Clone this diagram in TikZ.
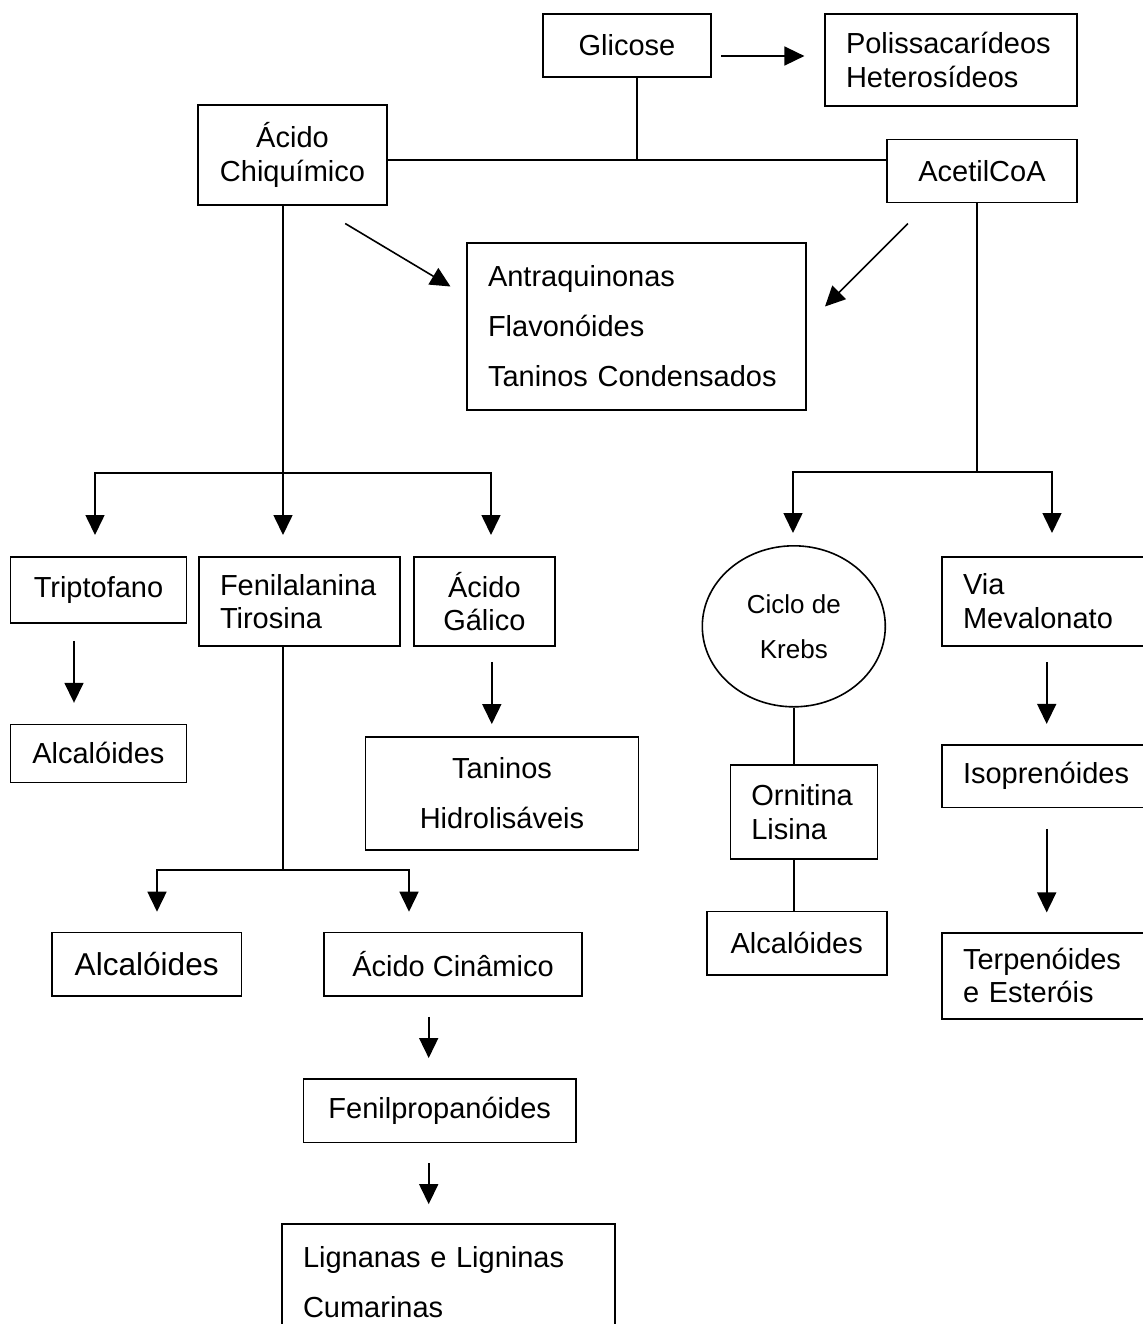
\documentclass[tikz,border=0pt]{standalone}
\usepackage{fontspec}
\setmainfont{Liberation Sans}
\usetikzlibrary{arrows.meta, shapes.geometric}

\begin{document}
\begin{tikzpicture}[
    x=0.5pt, y=-0.5pt,
    line width=0.8pt,
    every node/.style={font=\fontsize{14.5}{16.75}\selectfont},
    box/.style={rectangle, draw, inner sep=0pt, align=center},
    lbox/.style={box, align=left, inner xsep=10.5pt},
    wide/.style={font=\fontsize{14.5}{25}\selectfont},
    arr/.style={-{Triangle[length=10pt, width=9.5pt]}},
  ]
    \useasboundingbox (0,0) rectangle (1143,1324);
    \clip (0,0) rectangle (1143,1324);
    % top row
    \node[box, minimum width=84pt, minimum height=31.5pt] (glic) at (627,45.5) {Glicose};
    \node[lbox, text width=105pt, minimum height=46pt] (poli) at (951,60) {Polissacarídeos\\Heterosídeos};
    \node[box, minimum width=94.5pt, minimum height=50pt] (chiq) at (292.5,155) {Ácido\\Chiquímico};
    \node[box, minimum width=95pt, minimum height=31.5pt] (acetil) at (982,170.8) {AcetilCoA};
    \node[lbox, wide, text width=148.5pt, minimum height=83.5pt] (antra) at (636.5,326.5)
      {Antraquinonas\\Flavonóides\\Taninos Condensados};
    % left side
    \node[box, minimum width=88pt, minimum height=33pt] (tript) at (98.5,590) {Triptofano};
    \node[lbox, text width=79.5pt, minimum height=44.5pt] (fenil) at (299.5,601.5) {Fenilalanina\\Tirosina};
    \node[box, minimum width=70.5pt, minimum height=44.5pt] (galico) at (484.4,601.5) {Ácido\\Gálico};
    \node[box, minimum width=88pt, minimum height=29pt] (alcA) at (98.4,753.4) {Alcalóides};
    \node[box, wide, minimum width=136.5pt, minimum height=56.5pt] (taninos) at (502,793.3) {Taninos\\Hidrolisáveis};
    \node[box, minimum width=94.8pt, minimum height=31.65pt, font=\fontsize{15.8}{18}\selectfont] (alcB) at (146.7,964.3) {Alcalóides};
    \node[box, minimum width=129pt, minimum height=31.65pt] (cinam) at (453,964.3) {Ácido Cinâmico};
    \node[box, minimum width=136.3pt, minimum height=31.65pt] (fenilp) at (439.7,1110.7) {Fenilpropanóides};
    \node[lbox, wide, text width=145.5pt, minimum height=58pt] (lign) at (448.5,1282) {Lignanas e Ligninas\\Cumarinas};
    % right side
    \node[ellipse, draw, inner sep=0pt, minimum width=91.5pt, minimum height=80.5pt, align=center,
      font=\fontsize{13}{22.5}\selectfont] (krebs) at (793.8,626.3) {Ciclo de\\Krebs};
    \node[lbox, text width=89pt, minimum height=44.5pt] (via) at (1052,601.3) {Via\\Mevalonato};
    \node[lbox, text width=52.5pt, minimum height=47pt] (ornit) at (803.8,812) {Ornitina\\Lisina};
    \node[box, minimum width=90pt, minimum height=31.65pt] (alcC) at (796.7,943.3) {Alcalóides};
    \node[lbox, text width=89pt, minimum height=31.35pt] (isop) at (1052,776.3) {Isoprenóides};
    \node[lbox, text width=89pt, minimum height=43pt] (terp) at (1052,975.7) {Terpenóides\\e Esteróis};
    % glicose links
    \draw[arr] ([shift={(9.6,10.5)}]glic.east) -- ++(83,0);
    \coordinate (jglic) at (637,160);
    \draw (glic.south -| jglic) -- (jglic);
    \draw (chiq.east |- jglic) -- (acetil.west |- jglic);
    \draw[arr] ([shift={(-42.6,17.7)}]chiq.south east) -- ++(105.3,63);
    \draw[arr] ([shift={(21.7,20.4)}]acetil.south west) -- ++(-82.9,83);
    % chiquimico branch
    \coordinate (jchiq) at (283,473);
    \draw (chiq.south -| jchiq) -- (jchiq);
    \foreach \dx in {-188,0,208}\draw[arr] (jchiq) -| ++(\dx,62);
    \draw[arr] ([shift={(-24.5,17)}]tript.south) -- ++(0,62);
    \draw[arr] ([shift={(7.4,15)}]galico.south) -- ++(0,62.3);
    \coordinate (jfen) at (283,870);
    \draw (fenil.south -| jfen) -- (jfen);
    \foreach \dx in {-126,126}\draw[arr] (jfen) -| ++(\dx,41.7);
    \draw[arr] ([shift={(-24.3,20)}]cinam.south) -- ++(0,41.3);
    \draw[arr] ([shift={(-11,20)}]fenilp.south) -- ++(0,41);
    % acetilCoA branch
    \coordinate (jacet) at (977,472);
    \draw (acetil.south -| jacet) -- (jacet);
    \foreach \dx in {-184,75}\draw[arr] (jacet) -| ++(\dx,61);
    \draw (krebs.south) -- (krebs.south |- ornit.north);
    \draw (ornit.south -| krebs.south) -- (alcC.north -| krebs.south);
    \draw[arr] ([shift={(-5.3,15.7)}]via.south) -- ++(0,61.6);
    \draw[arr] ([shift={(-5.3,20.3)}]isop.south) -- ++(0,83.7);
\end{tikzpicture}
\end{document}
